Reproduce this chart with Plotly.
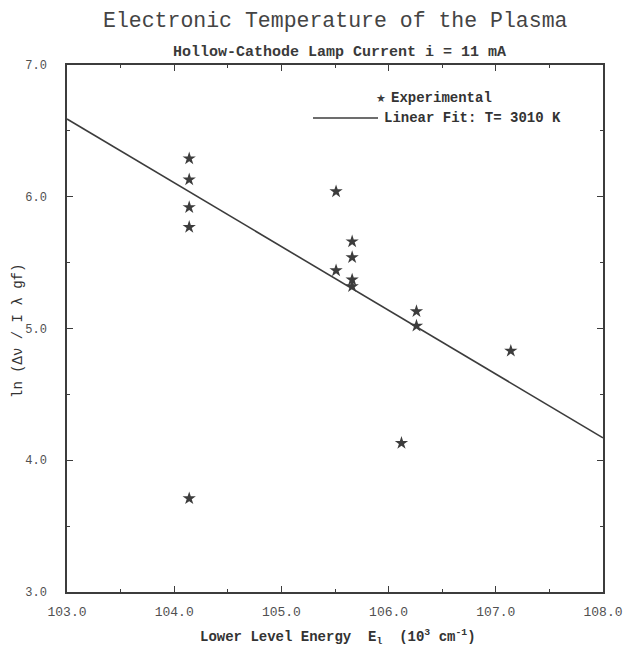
import plotly.graph_objects as go

# Experimental points (lower level energy in 10^3 cm^-1, ln(dv / I lambda gf))
exp_energy = [104.14, 104.14, 104.14, 104.14, 104.14,
              105.51, 105.51,
              105.66, 105.66, 105.66, 105.66,
              106.26, 106.26, 106.12, 107.14]
exp_value = [6.29, 6.13, 5.92, 5.77, 3.71,
             6.04, 5.44,
             5.66, 5.54, 5.37, 5.32,
             5.13, 5.02, 4.13, 4.83]

# Linear fit endpoints
fit_energy = [103.0, 108.0]
fit_value = [6.59, 4.17]

x_tick_vals = [103, 104, 105, 106, 107, 108]
x_tick_labels = ["103.0", "104.0", "105.0", "106.0", "107.0", "108.0"]
y_tick_vals = [3, 4, 5, 6, 7]
y_tick_labels = ["3.0", "4.0", "5.0", "6.0", "7.0"]

ink = "#3c3c3c"
mono = "Liberation Mono, Courier New, monospace"

# plot area in window pixels (for placing paper-referenced decorations)
FIG_W, FIG_H = 625, 653
PW, PH = 536, 527
PLEFT, PTOP = 67, 65


def px_x(px):
    return (px - PLEFT) / PW


def px_y(py):
    return (PTOP + PH - py) / PH


fig = go.Figure()
fig.add_trace(go.Scatter(
    x=exp_energy, y=exp_value, mode="markers", name="Experimental",
    marker=dict(symbol="star", size=10, color=ink, line=dict(width=0)),
    showlegend=False,
))
fig.add_trace(go.Scatter(
    x=fit_energy, y=fit_value, mode="lines", name="Linear Fit: T= 3010 K",
    line=dict(color=ink, width=1.6), showlegend=False,
))

axis_common = dict(
    showgrid=False, zeroline=False, showline=True, linecolor=ink, linewidth=1.5,
    mirror="ticks", ticks="inside", ticklen=6, tickwidth=1.3, tickcolor=ink,
    minor=dict(ticks="inside", ticklen=3, tickwidth=1, tickcolor=ink, dtick=0.5),
    automargin=False,
)

fig.update_xaxes(
    range=[103, 108], tickvals=x_tick_vals, ticktext=x_tick_labels,
    ticklabelstandoff=7, tickfont=dict(family=mono, size=13, color="#505050"),
    **axis_common,
)
fig.update_yaxes(
    range=[3, 7], tickvals=y_tick_vals, ticktext=y_tick_labels,
    ticklabelstandoff=16, tickfont=dict(family=mono, size=12, color="#505050"),
    **axis_common,
)

annotations = [
    # main title
    dict(text="Electronic Temperature of the Plasma", xref="paper", yref="paper",
         x=px_x(335), y=px_y(21), xanchor="center", yanchor="middle", showarrow=False,
         font=dict(family=mono, size=21.5, color="#444")),
    # subtitle
    dict(text="<b>Hollow-Cathode Lamp Current i = 11 mA</b>", xref="paper", yref="paper",
         x=px_x(339), y=px_y(52), xanchor="center", yanchor="middle", showarrow=False,
         font=dict(family=mono, size=15, color="#3a3a3a")),
    # x-axis title
    dict(text="<b>Lower Level Energy  E<sub>l</sub>  (10<sup>3</sup> cm<sup>-1</sup>)</b>",
         xref="paper", yref="paper", x=px_x(338), y=px_y(637),
         xanchor="center", yanchor="middle", showarrow=False,
         font=dict(family=mono, size=14, color="#333")),
    # y-axis title
    dict(text="ln (Δν / I λ gf)", xref="paper", yref="paper",
         x=px_x(18), y=px_y(331), xanchor="center", yanchor="middle",
         textangle=-90, showarrow=False,
         font=dict(family=mono, size=14, color="#333")),
    # legend entries
    dict(text="★", xref="paper", yref="paper", x=px_x(381), y=px_y(98),
         xanchor="center", yanchor="middle", showarrow=False,
         font=dict(family="DejaVu Sans", size=11, color=ink)),
    dict(text="<b>Experimental</b>", xref="paper", yref="paper", x=px_x(389), y=px_y(98),
         xanchor="left", yanchor="middle", showarrow=False,
         font=dict(family=mono, size=14, color="#333")),
    dict(text="<b>Linear Fit: T= 3010 K</b>", xref="paper", yref="paper",
         x=px_x(382), y=px_y(118), xanchor="left", yanchor="middle", showarrow=False,
         font=dict(family=mono, size=14, color="#333")),
]

shapes = [
    dict(type="line", xref="paper", yref="paper",
         x0=px_x(313), x1=px_x(378), y0=px_y(118), y1=px_y(118),
         line=dict(color=ink, width=1.6)),
]

fig.update_layout(
    width=FIG_W, height=FIG_H,
    margin=dict(l=PLEFT, r=FIG_W - PLEFT - PW, t=PTOP,
                b=FIG_H - PTOP - PH, autoexpand=False),
    paper_bgcolor="white", plot_bgcolor="white",
    showlegend=False,
    annotations=annotations,
    shapes=shapes,
)

# remove the default page margin so the figure fills the 625x653 window exactly
fig.write_html(
    "out.html",
    config={"displayModeBar": False},
    post_script="document.body.style.margin='0';document.documentElement.style.overflow='hidden';",
)
